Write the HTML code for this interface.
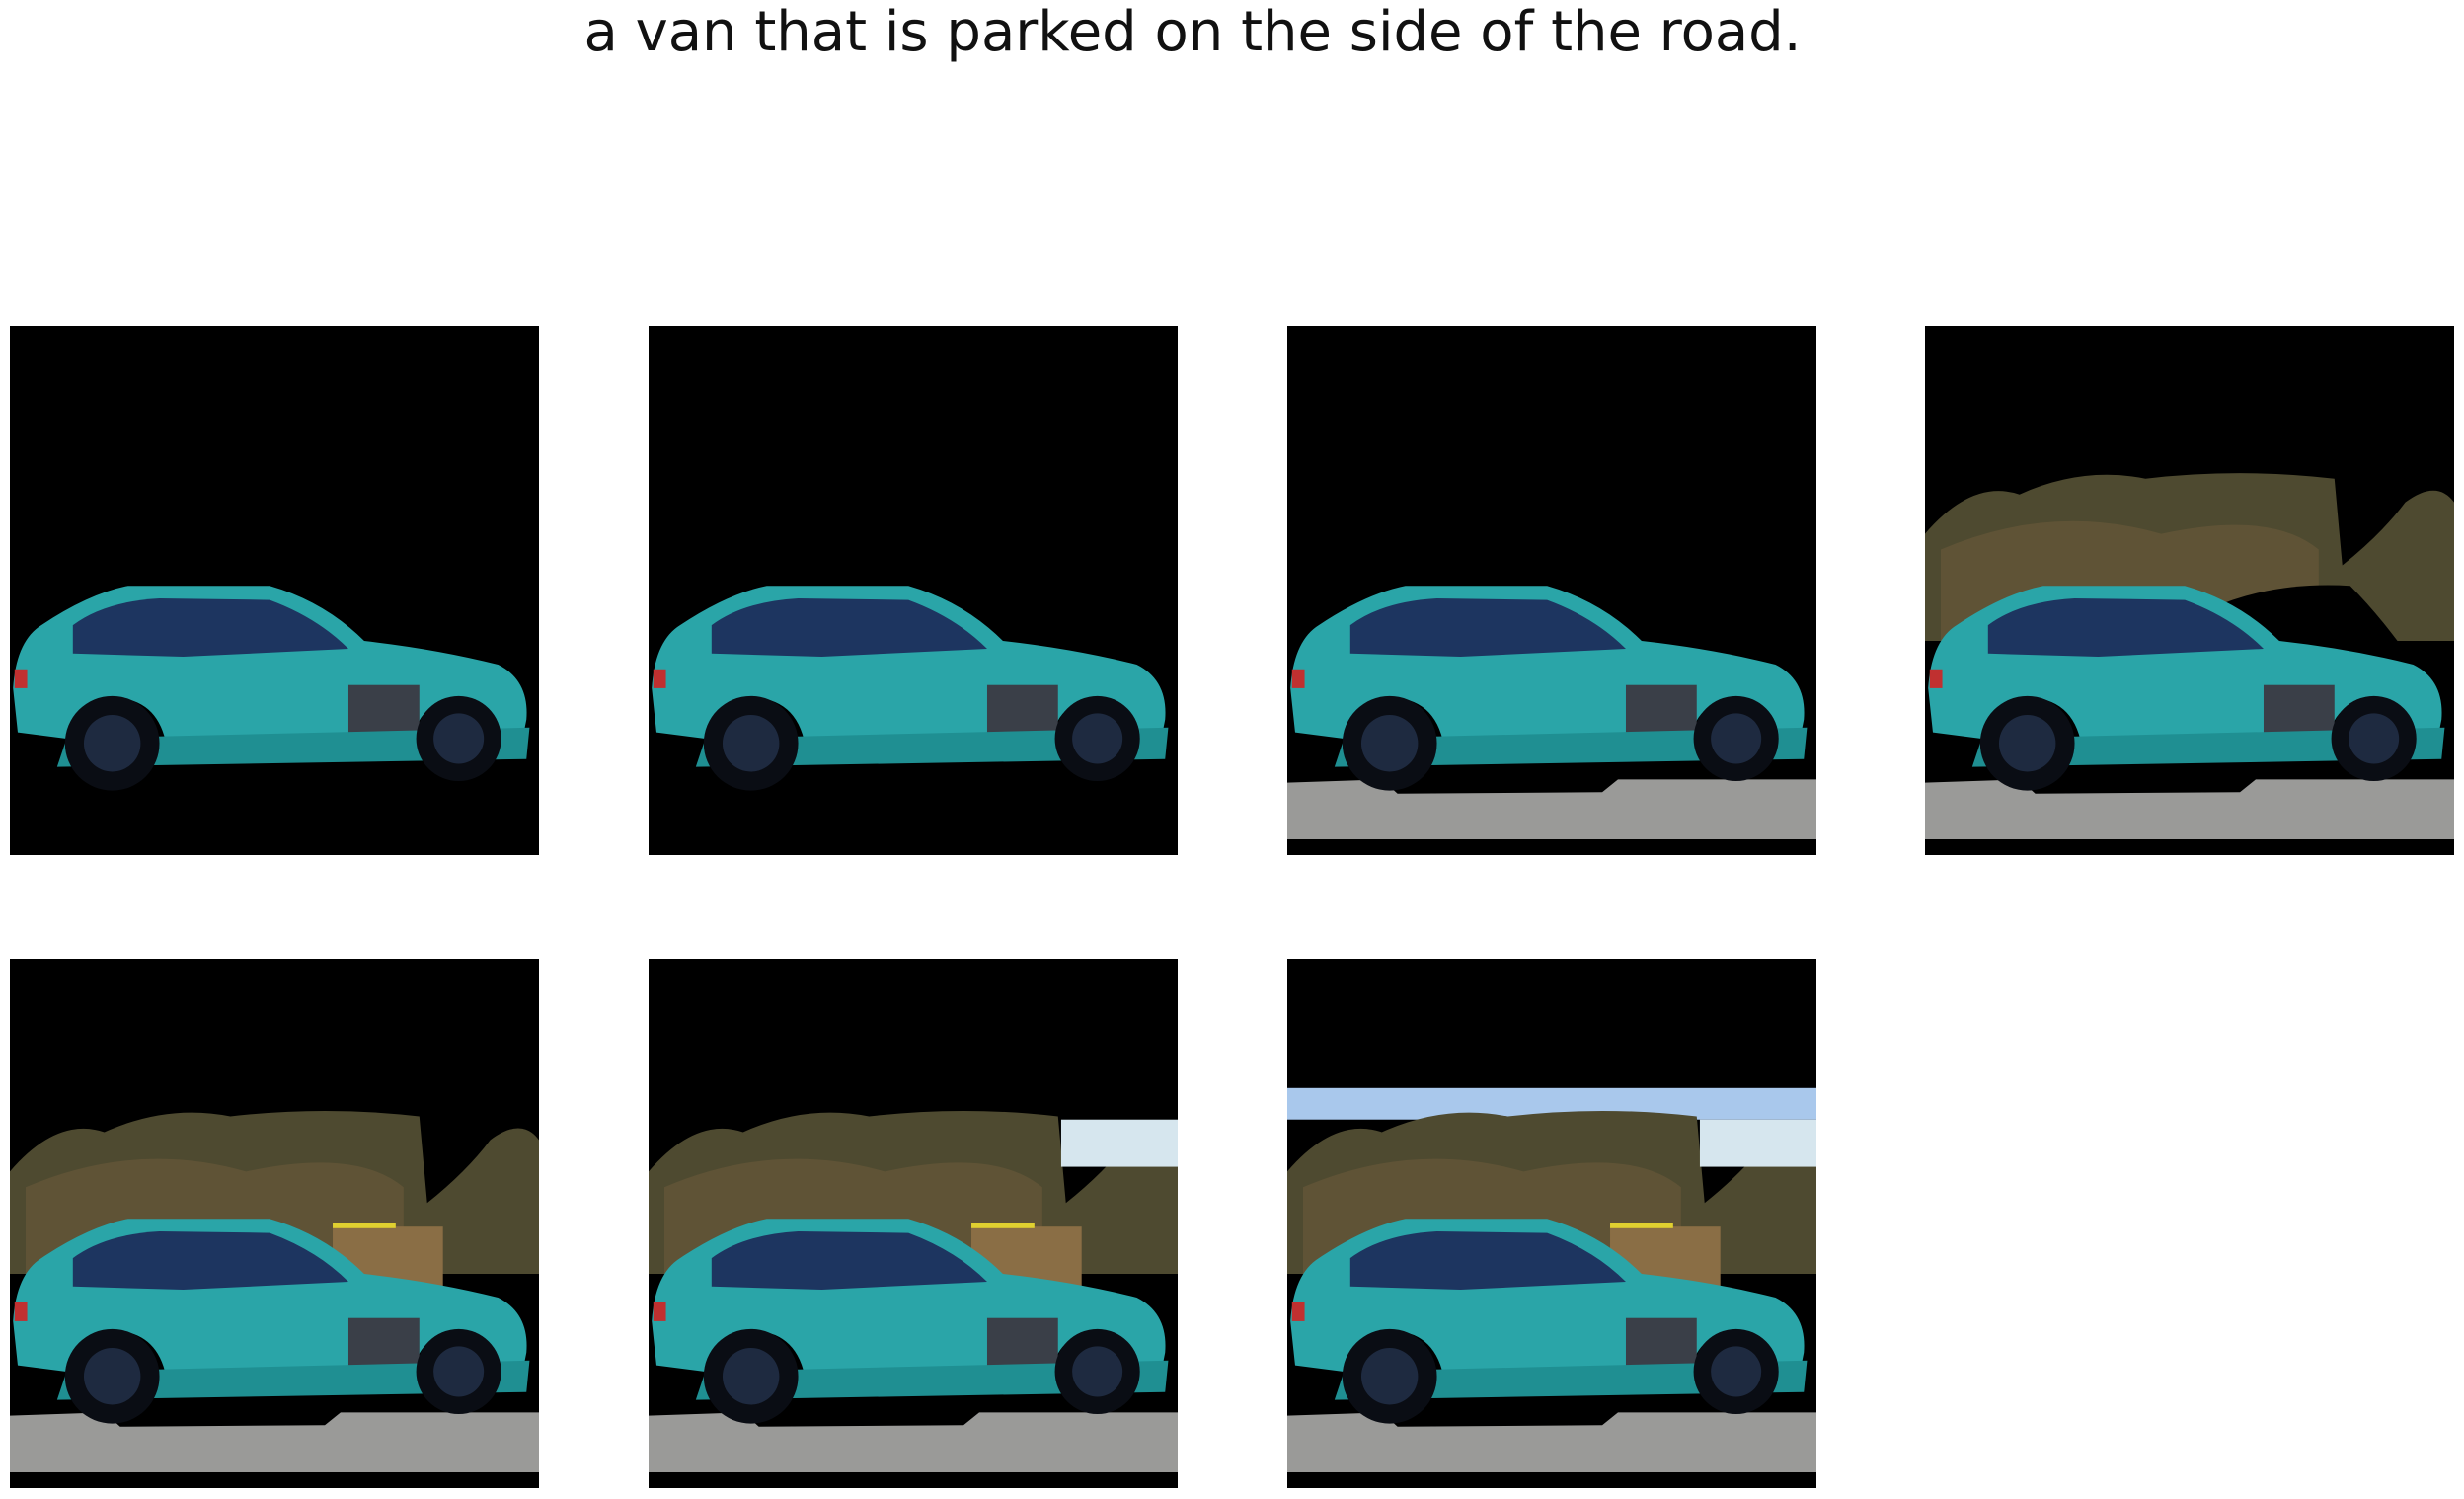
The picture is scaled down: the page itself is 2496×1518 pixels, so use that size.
<!DOCTYPE html>
<html><head><meta charset="utf-8">
<style>
html,body{margin:0;padding:0;background:#fff;}
body{width:2496px;height:1518px;position:relative;overflow:hidden;font-family:"Liberation Sans","DejaVu Sans",sans-serif;}
#title{position:absolute;left:0;width:2416px;top:0px;text-align:center;font-family:"DejaVu Sans","Liberation Sans",sans-serif;font-size:56px;color:#111;}
.panel{position:absolute;width:536px;height:536px;}
</style></head>
<body>
<div id="title">a van that is parked on the side of the road.</div>
<div id="grid"></div>
<script>
const panelLefts=[9.5,657,1304,1950];
const panelTops=[329.5,971];
const stages=[
 {road:false,trees:false,bldg:false,sky:false},
 {road:false,trees:false,bldg:false,sky:false},
 {road:true,trees:false,bldg:false,sky:false},
 {road:true,trees:true,bldg:false,sky:false},
 {road:true,trees:true,bldg:true,sky:false},
 {road:true,trees:true,bldg:true,sky:false},
 {road:true,trees:true,bldg:true,sky:true}
];
function svgFor(s,i){
 let g='<svg width="536" height="536" viewBox="0 0 336 336" preserveAspectRatio="none" xmlns="http://www.w3.org/2000/svg">';
 g+='<rect width="336" height="336" fill="#000"/>';
 if(s.sky) g+='<rect x="0" y="82" width="336" height="20" fill="#a9c8ec"/>';
 if(s.trees){
  const top = i===3?92:95;
  g+='<path d="M0 '+(top+40)+' Q30 '+(top+5)+' 60 '+(top+15)+' Q100 '+(top-3)+' 140 '+(top+5)+' Q200 '+(top-2)+' 260 '+(top+5)+' L265 '+(top+60)+' Q290 '+(top+40)+' 305 '+(top+20)+' Q325 '+(top+5)+' 336 '+(top+20)+' L336 200 L0 200 Z" fill="#4e4a30"/>';
  g+='<path d="M10 '+(top+50)+' Q80 '+(top+20)+' 150 '+(top+40)+' Q220 '+(top+25)+' 250 '+(top+50)+' L250 200 L10 200Z" fill="#6b5a3a" opacity="0.6"/>';
  if(i===3) g+='<path d="M180 180 Q220 162 270 165 Q285 180 300 200 L180 200Z" fill="#000"/>';
  if(s.sky||i===5) g+='<rect x="262" y="102" width="74" height="30" fill="#d6e6ee"/>';
 }
 if(s.bldg) g+='<rect x="205" y="170" width="70" height="40" fill="#8a6e45"/><rect x="205" y="168" width="40" height="3" fill="#e0d030"/>';
 if(s.road){
  g+='<path d="M0 290 L60 288 L70 297 L200 296 L210 288 L336 288 L336 326 L0 326Z" fill="#9a9a98"/>';
  g+='<rect x="0" y="326" width="336" height="10" fill="#000"/>';
 }
 g+='<path d="M2 230 Q4 200 20 190 Q50 170 75 165 L165 165 Q200 175 225 200 Q270 205 310 215 Q330 225 328 250 L325 265 L305 265 Q300 238 280 238 Q258 240 255 268 L100 270 Q96 238 68 236 Q40 238 36 262 L5 258Z" fill="#2aa5a8"/>';
 g+='<path d="M40 190 Q60 175 95 173 L165 174 Q195 185 215 205 L110 210 L40 208Z" fill="#1d3560"/>';
 g+='<rect x="215" y="228" width="45" height="40" fill="#3a3f48"/>';
 g+='<path d="M36 262 L330 255 L328 275 L30 280Z" fill="#1f8f92"/>';
 g+='<circle cx="65" cy="265" r="30" fill="#0a0d14"/><circle cx="65" cy="265" r="18" fill="#1e2a40"/>';
 g+='<circle cx="285" cy="262" r="27" fill="#0a0d14"/><circle cx="285" cy="262" r="16" fill="#1e2a40"/>';
 g+='<rect x="3" y="218" width="8" height="12" fill="#c03030"/>';
 g+='</svg>';
 return g;
}
const grid=document.getElementById('grid');
stages.forEach((s,i)=>{
 const d=document.createElement('div');
 d.className='panel';
 d.style.left=panelLefts[i%4]+'px';
 d.style.top=panelTops[Math.floor(i/4)]+'px';
 
 
 d.innerHTML=svgFor(s,i);
 grid.appendChild(d);
});
</script>
</body></html>
